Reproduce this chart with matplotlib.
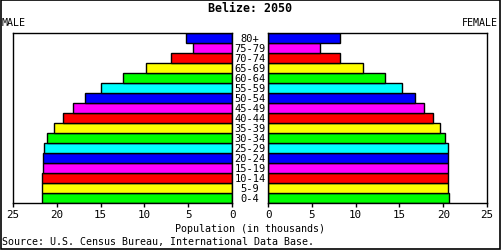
import matplotlib
matplotlib.use("Agg")
import matplotlib.pyplot as plt

ages = ["0-4", "5-9", "10-14", "15-19", "20-24", "25-29", "30-34", "35-39",
        "40-44", "45-49", "50-54", "55-59", "60-64", "65-69", "70-74", "75-79", "80+"]
male = [21.7, 21.7, 21.7, 21.6, 21.6, 21.5, 21.1, 20.3,
        19.3, 18.2, 16.8, 15.0, 12.5, 9.8, 7.0, 4.5, 5.25]
female = [20.65, 20.55, 20.55, 20.55, 20.55, 20.55, 20.2, 19.6,
          18.85, 17.8, 16.8, 15.3, 13.35, 10.85, 8.2, 5.95, 8.2]
palette = ["#00ff00", "#ffff00", "#ff0000", "#ff00ff", "#0000ff", "#00ffff"]
colors = [palette[i % 6] for i in range(len(ages))]

plt.rcParams["font.family"] = "DejaVu Sans Mono"
fig = plt.figure(figsize=(5.01, 2.51), dpi=100)
W, H = 501, 251
FS = 7.2


def box(x0, y0, x1, y1):
    return [x0 / W, 1 - y1 / H, (x1 - x0) / W, (y1 - y0) / H]


axl = fig.add_axes(box(13, 34, 232, 204))
axr = fig.add_axes(box(268, 34, 487, 204))
y = range(len(ages))

axl.barh(y, male, height=1.0, color=colors, edgecolor="black", linewidth=1)
axl.set_xlim(25, 0)
axr.barh(y, female, height=1.0, color=colors, edgecolor="black", linewidth=1)
axr.set_xlim(0, 25)

for ax in (axl, axr):
    ax.set_ylim(-0.5, len(ages) - 0.5)
    ax.set_yticks([])
    ax.set_xticks([0, 5, 10, 15, 20, 25])
    ax.tick_params(axis="x", length=3, width=1, labelsize=FS + 0.6, pad=1)
    for s in ax.spines.values():
        s.set_linewidth(1)

for i, a in enumerate(ages):
    fig.text(250 / W, 1 - (199 - i * 10) / H, a, ha="center", va="center", fontsize=FS + 0.3)

fig.text(250 / W, 1 - 8 / H, "Belize: 2050", ha="center", va="center",
         fontsize=8.4, fontweight="bold")
fig.text(2 / W, 1 - 23 / H, "MALE", ha="left", va="center", fontsize=FS)
fig.text(498 / W, 1 - 23 / H, "FEMALE", ha="right", va="center", fontsize=FS)
fig.text(250 / W, 1 - 229 / H, "Population (in thousands)", ha="center",
         va="center", fontsize=FS)
fig.text(2 / W, 1 - 242 / H, "Source: U.S. Census Bureau, International Data Base.",
         ha="left", va="center", fontsize=FS)

fig.patches.append(plt.Rectangle((0.001, 0.002), 0.997, 0.996, transform=fig.transFigure,
                                 fill=False, edgecolor="black", linewidth=1.2))

fig.savefig("out.png", dpi=100)
